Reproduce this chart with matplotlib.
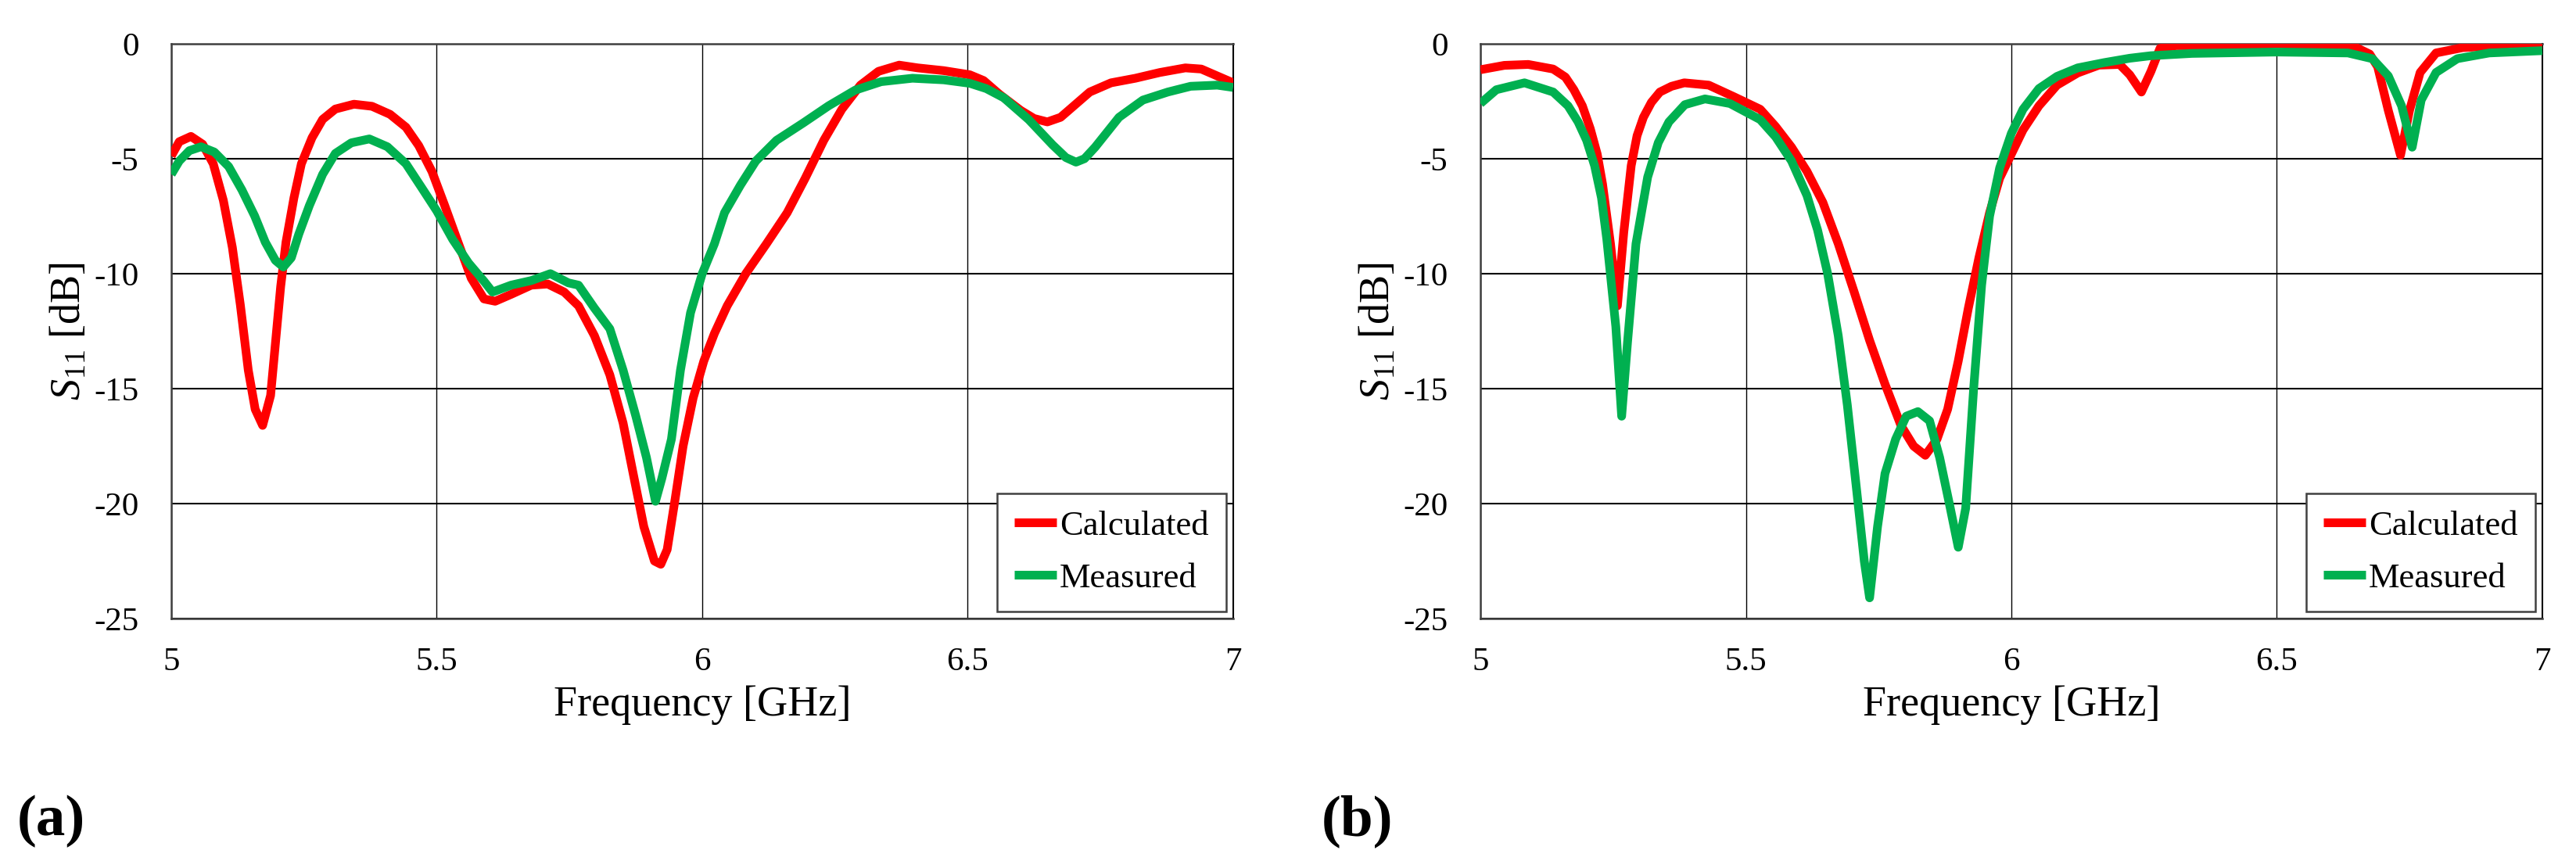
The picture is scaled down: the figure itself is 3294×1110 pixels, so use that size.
import numpy as np
import matplotlib
matplotlib.use('Agg')
import matplotlib.pyplot as plt

plt.rcParams['font.family'] = ['Liberation Serif', 'DejaVu Serif']
plt.rcParams['mathtext.fontset'] = 'custom'
plt.rcParams['mathtext.rm'] = 'Liberation Serif'
plt.rcParams['mathtext.it'] = 'Liberation Serif:italic'

# ---- panel (a) ----
freq_a_calc = [5.0, 5.015, 5.037, 5.059, 5.079, 5.098, 5.115, 5.13, 5.145, 5.158, 5.172,
               5.187, 5.196, 5.206, 5.216, 5.231, 5.245, 5.265, 5.285, 5.309, 5.344, 5.378,
               5.412, 5.442, 5.466, 5.491, 5.515, 5.54, 5.565, 5.589, 5.61, 5.64, 5.678,
               5.709, 5.74, 5.767, 5.797, 5.826, 5.851, 5.87, 5.89, 5.91, 5.922, 5.934,
               5.949, 5.964, 5.983, 6.003, 6.023, 6.047, 6.082, 6.121, 6.16, 6.194, 6.229,
               6.263, 6.298, 6.332, 6.371, 6.406, 6.455, 6.504, 6.53, 6.56, 6.60, 6.625,
               6.65, 6.675, 6.70, 6.73, 6.77, 6.816, 6.862, 6.91, 6.94, 6.97, 7.0]
s11_a_calc = [-4.88, -4.26, -4.03, -4.37, -5.22, -6.81, -8.86, -11.35, -14.2, -15.9, -16.6,
              -15.3, -13.06, -10.56, -8.63, -6.7, -5.22, -4.09, -3.29, -2.84, -2.63, -2.72,
              -3.07, -3.63, -4.43, -5.56, -7.04, -8.63, -10.2, -11.1, -11.2, -10.9, -10.5,
              -10.45, -10.8, -11.4, -12.7, -14.4, -16.5, -18.7, -21.0, -22.5, -22.64, -22.0,
              -19.8, -17.5, -15.4, -13.8, -12.6, -11.4, -10.0, -8.7, -7.35, -5.85, -4.2,
              -2.85, -1.8, -1.2, -0.93, -1.05, -1.17, -1.35, -1.6, -2.2, -2.9, -3.25,
              -3.4, -3.2, -2.7, -2.1, -1.7, -1.5, -1.25, -1.05, -1.1, -1.4, -1.7]

freq_a_meas = [5.0, 5.015, 5.034, 5.056, 5.081, 5.108, 5.133, 5.157, 5.177, 5.196, 5.211,
               5.226, 5.24, 5.26, 5.285, 5.309, 5.339, 5.373, 5.407, 5.442, 5.471, 5.50,
               5.53, 5.56, 5.589, 5.605, 5.64, 5.678, 5.714, 5.748, 5.767, 5.797, 5.826,
               5.851, 5.875, 5.895, 5.912, 5.924, 5.942, 5.959, 5.978, 6.0, 6.023, 6.042,
               6.072, 6.101, 6.14, 6.19, 6.238, 6.288, 6.337, 6.396, 6.455, 6.504, 6.535,
               6.568, 6.615, 6.66, 6.685, 6.704, 6.72, 6.74, 6.785, 6.83, 6.877, 6.92,
               6.97, 7.0]
s11_a_meas = [-5.68, -5.1, -4.65, -4.48, -4.71, -5.34, -6.36, -7.49, -8.63, -9.42, -9.71,
              -9.31, -8.29, -7.04, -5.68, -4.77, -4.31, -4.14, -4.48, -5.22, -6.24, -7.27,
              -8.51, -9.54, -10.33, -10.8, -10.5, -10.3, -10.0, -10.4, -10.5, -11.5, -12.4,
              -14.2, -16.2, -18.0, -19.9, -18.9, -17.2, -14.2, -11.7, -10.0, -8.7, -7.35,
              -6.15, -5.1, -4.2, -3.45, -2.7, -2.02, -1.65, -1.5, -1.57, -1.72, -1.95,
              -2.35, -3.3, -4.4, -4.95, -5.15, -5.0, -4.5, -3.2, -2.45, -2.1, -1.85,
              -1.8, -1.9]

# ---- panel (b) ----
freq_b_calc = [5.0, 5.045, 5.09, 5.137, 5.16, 5.176, 5.192, 5.207, 5.22, 5.23, 5.245, 5.258,
               5.27, 5.284, 5.295, 5.307, 5.322, 5.338, 5.36, 5.384, 5.43, 5.477, 5.527,
               5.556, 5.586, 5.615, 5.645, 5.674, 5.704, 5.733, 5.762, 5.792, 5.816, 5.838,
               5.86, 5.88, 5.90, 5.919, 5.939, 5.959, 5.978, 6.0, 6.022, 6.052, 6.086,
               6.125, 6.165, 6.204, 6.223, 6.245, 6.263, 6.28, 6.31, 6.45, 6.6, 6.65,
               6.675, 6.69, 6.71, 6.733, 6.75, 6.77, 6.80, 6.85, 6.9, 7.0]
s11_b_calc = [-1.13, -0.94, -0.9, -1.1, -1.45, -2.0, -2.7, -3.7, -4.8, -6.1, -8.7, -11.4,
              -8.2, -5.3, -4.0, -3.2, -2.55, -2.1, -1.85, -1.7, -1.8, -2.3, -2.85,
              -3.6, -4.5, -5.55, -6.9, -8.7, -10.8, -12.9, -14.8, -16.6, -17.5, -17.9,
              -17.2, -15.9, -13.8, -11.5, -9.3, -7.35, -5.85, -4.8, -3.75, -2.7, -1.8,
              -1.27, -0.93, -0.9, -1.35, -2.1, -1.2, -0.2, -0.08, -0.1, -0.12, -0.17,
              -0.45, -1.0, -2.9, -4.85, -2.9, -1.25, -0.4, -0.17, -0.1, -0.05]

freq_b_meas = [5.0, 5.03, 5.083, 5.137, 5.165, 5.184, 5.2, 5.215, 5.228, 5.238, 5.255, 5.266,
               5.277, 5.293, 5.315, 5.335, 5.355, 5.385, 5.423, 5.47, 5.527, 5.556, 5.586,
               5.615, 5.635, 5.654, 5.674, 5.691, 5.709, 5.723, 5.733, 5.748, 5.762, 5.782,
               5.802, 5.824, 5.846, 5.865, 5.885, 5.90, 5.914, 5.929, 5.944, 5.959, 5.978,
               6.0, 6.022, 6.052, 6.086, 6.125, 6.175, 6.223, 6.263, 6.34, 6.5, 6.634,
               6.68, 6.71, 6.735, 6.755, 6.772, 6.80, 6.84, 6.90, 7.0]
s11_b_meas = [-2.6, -2.0, -1.7, -2.1, -2.7, -3.4, -4.2, -5.3, -6.7, -8.5, -12.3, -16.2,
              -13.0, -8.7, -5.8, -4.3, -3.4, -2.65, -2.4, -2.6, -3.3, -4.05, -5.1,
              -6.6, -8.1, -10.0, -12.7, -15.7, -19.5, -22.5, -24.1, -21.0, -18.7, -17.2,
              -16.2, -16.0, -16.4, -18.0, -20.2, -21.9, -20.2, -15.0, -10.5, -7.5, -5.4,
              -3.9, -2.85, -1.95, -1.42, -1.05, -0.82, -0.63, -0.52, -0.42, -0.36, -0.4,
              -0.65, -1.4, -2.7, -4.5, -2.45, -1.25, -0.65, -0.4, -0.3]

x_ticks = [5, 5.5, 6, 6.5, 7]
x_tick_labels = ['5', '5.5', '6', '6.5', '7']
y_ticks = [0, -5, -10, -15, -20, -25]
y_tick_labels = ['0', '-5', '-10', '-15', '-20', '-25']

RED = '#ff0000'
GREEN = '#00b050'

fig = plt.figure(figsize=(32.94, 11.10), dpi=100)
ax1 = fig.add_axes([0.0665, 0.2874, 0.4122, 0.6622])
ax2 = fig.add_axes([0.5747, 0.2874, 0.4122, 0.6622])

panels = [
    (ax1, freq_a_calc, s11_a_calc, freq_a_meas, s11_a_meas, '(a)', 0.0067),
    (ax2, freq_b_calc, s11_b_calc, freq_b_meas, s11_b_meas, '(b)', 0.5130),
]

for ax, fc, sc, fm, sm, tag, tx in panels:
    ax.plot(fc, sc, color=RED, lw=8, solid_joinstyle='round', solid_capstyle='butt',
            label='Calculated', zorder=3)
    ax.plot(fm, sm, color=GREEN, lw=8, solid_joinstyle='round', solid_capstyle='butt',
            label='Measured', zorder=4)
    ax.set_xlim(5, 7)
    ax.set_ylim(-25, 0)
    ax.set_xticks(x_ticks)
    ax.set_xticklabels(x_tick_labels)
    ax.set_yticks(y_ticks)
    ax.set_yticklabels(y_tick_labels)
    ax.tick_params(axis='both', length=0, labelsize=31)
    ax.tick_params(axis='y', pad=30)
    ax.tick_params(axis='x', pad=26)
    ax.grid(axis='y', color='black', lw=1.5, zorder=1)
    ax.grid(axis='x', color='black', lw=1.0, zorder=1)
    for side in ['left', 'top', 'bottom']:
        ax.spines[side].set_color('#404040')
        ax.spines[side].set_linewidth(1.8)
    ax.spines['right'].set_color('black')
    ax.spines['right'].set_linewidth(1.5)
    ax.set_xlabel('Frequency [GHz]', fontsize=39, labelpad=8)
    ax.set_ylabel(r'$\mathit{S}_{\mathit{11}}$ [dB]', fontsize=39, labelpad=4)
    leg = ax.legend(loc='lower right', bbox_to_anchor=(0.9934, 0.0123), borderaxespad=0,
                    fontsize=32, handlelength=1.2, handletextpad=0.1, labelspacing=0.6,
                    borderpad=0.5, fancybox=False, framealpha=1)
    leg.get_frame().set_edgecolor('#404040')
    leg.get_frame().set_linewidth(1.8)
    leg.set_zorder(5)
    fig.text(tx, 0.054, tag, fontsize=54, fontweight='bold', ha='left', va='center')

fig.savefig('out.png', dpi=100)
